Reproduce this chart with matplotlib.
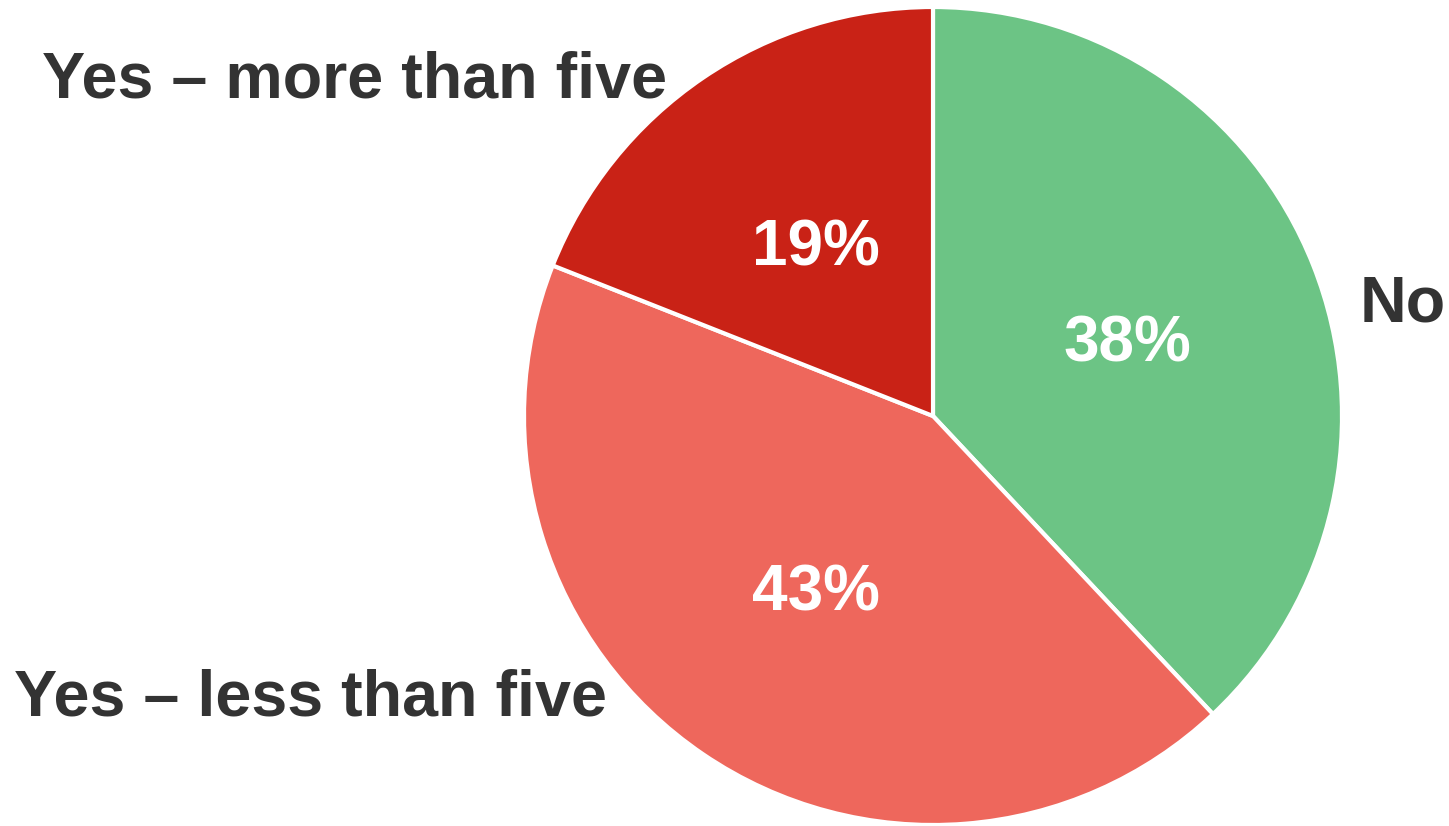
import matplotlib
matplotlib.use('Agg')

import matplotlib.pyplot as plt
from matplotlib import transforms

# Data
labels = ["No", "Yes – less than five", "Yes – more than five"]
values = [38, 43, 19]
colors = ["#6CC485", "#EE675C", "#C92216"]

plt.rcParams['font.family'] = ['Liberation Sans', 'DejaVu Sans']

W, H = 1449, 826
fig = plt.figure(figsize=(W / 100, H / 100), dpi=100)

cx, cy, r = 933, 416, 409
ax = fig.add_axes([(cx - r) / W, (H - cy - r) / H, 2 * r / W, 2 * r / H])

wedges, texts, autotexts = ax.pie(
    values,
    colors=colors,
    startangle=90,
    counterclock=False,
    autopct='%d%%',
    pctdistance=0.51,
    wedgeprops=dict(edgecolor='white', linewidth=3),
    textprops=dict(color='white', fontsize=46, fontweight='bold'),
)
ax.set_xlim(-1, 1)
ax.set_ylim(-1, 1)
ax.set_aspect('equal')
ax.axis('off')

# nudge percentages down a little
shift = transforms.ScaledTranslation(0, -5 / 100, fig.dpi_scale_trans)
for t in autotexts:
    t.set_transform(t.get_transform() + shift)

# outer labels
label_pos = [(1403, 305), (310, 698), (355, 80)]
for lab, (x, y) in zip(labels, label_pos):
    fig.text(x / W, 1 - y / H, lab, ha='center', va='center', fontsize=46.5,
             fontweight='bold', color='#333333')

plt.savefig("out.png", dpi=100)
